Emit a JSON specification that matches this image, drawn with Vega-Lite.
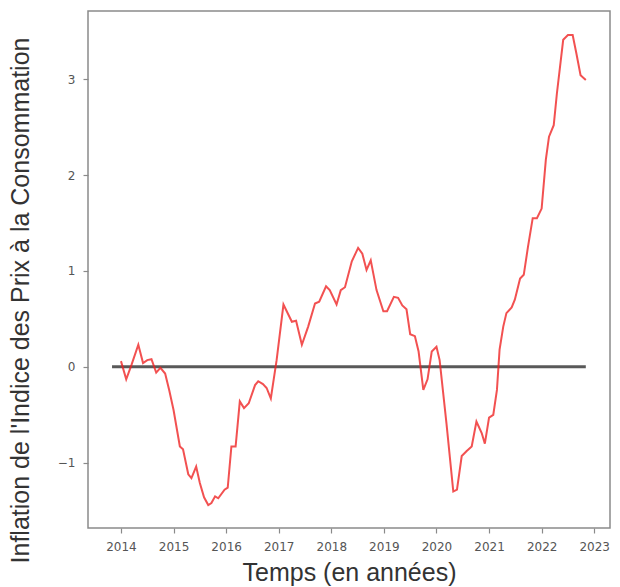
{
  "$schema": "https://vega.github.io/schema/vega-lite/v6.json",
  "width": 522,
  "height": 517,
  "autosize": "none",
  "padding": {"left": 88, "top": 11, "right": 10, "bottom": 59},
  "background": "white",
  "config": {
    "view": {"stroke": "#8a8a8a", "strokeWidth": 1.5},
    "axis": {
      "grid": false,
      "domain": false,
      "tickColor": "#8a8a8a",
      "tickSize": 5,
      "tickWidth": 1.2,
      "labelFont": "DejaVu Sans",
      "labelFontSize": 12,
      "labelColor": "#555555",
      "titleFont": "Liberation Sans",
      "titleFontSize": 25,
      "titleFontWeight": "normal",
      "titleColor": "#333333"
    }
  },
  "datasets": {
    "ipc": [
      {"annee": 2014.00, "inflation": 0.06},
      {"annee": 2014.10, "inflation": -0.13},
      {"annee": 2014.20, "inflation": 0.02},
      {"annee": 2014.33, "inflation": 0.23},
      {"annee": 2014.42, "inflation": 0.04},
      {"annee": 2014.50, "inflation": 0.07},
      {"annee": 2014.58, "inflation": 0.08},
      {"annee": 2014.67, "inflation": -0.06},
      {"annee": 2014.75, "inflation": -0.01},
      {"annee": 2014.84, "inflation": -0.07},
      {"annee": 2014.92, "inflation": -0.25},
      {"annee": 2015.00, "inflation": -0.45},
      {"annee": 2015.12, "inflation": -0.83},
      {"annee": 2015.18, "inflation": -0.86},
      {"annee": 2015.28, "inflation": -1.12},
      {"annee": 2015.34, "inflation": -1.16},
      {"annee": 2015.43, "inflation": -1.04},
      {"annee": 2015.50, "inflation": -1.21},
      {"annee": 2015.58, "inflation": -1.36},
      {"annee": 2015.66, "inflation": -1.44},
      {"annee": 2015.72, "inflation": -1.42},
      {"annee": 2015.79, "inflation": -1.35},
      {"annee": 2015.85, "inflation": -1.37},
      {"annee": 2015.97, "inflation": -1.28},
      {"annee": 2016.03, "inflation": -1.26},
      {"annee": 2016.10, "inflation": -0.83},
      {"annee": 2016.18, "inflation": -0.83},
      {"annee": 2016.26, "inflation": -0.36},
      {"annee": 2016.34, "inflation": -0.43},
      {"annee": 2016.43, "inflation": -0.38},
      {"annee": 2016.55, "inflation": -0.19},
      {"annee": 2016.61, "inflation": -0.15},
      {"annee": 2016.70, "inflation": -0.18},
      {"annee": 2016.77, "inflation": -0.22},
      {"annee": 2016.85, "inflation": -0.33},
      {"annee": 2016.96, "inflation": 0.07},
      {"annee": 2017.09, "inflation": 0.65},
      {"annee": 2017.25, "inflation": 0.47},
      {"annee": 2017.33, "inflation": 0.48},
      {"annee": 2017.44, "inflation": 0.23},
      {"annee": 2017.56, "inflation": 0.42},
      {"annee": 2017.69, "inflation": 0.66},
      {"annee": 2017.77, "inflation": 0.68},
      {"annee": 2017.90, "inflation": 0.84},
      {"annee": 2017.97, "inflation": 0.80},
      {"annee": 2018.10, "inflation": 0.65},
      {"annee": 2018.18, "inflation": 0.80},
      {"annee": 2018.26, "inflation": 0.83},
      {"annee": 2018.39, "inflation": 1.10},
      {"annee": 2018.51, "inflation": 1.24},
      {"annee": 2018.59, "inflation": 1.18},
      {"annee": 2018.67, "inflation": 1.01},
      {"annee": 2018.75, "inflation": 1.11},
      {"annee": 2018.86, "inflation": 0.80},
      {"annee": 2018.99, "inflation": 0.58},
      {"annee": 2019.06, "inflation": 0.58},
      {"annee": 2019.19, "inflation": 0.73},
      {"annee": 2019.27, "inflation": 0.72},
      {"annee": 2019.35, "inflation": 0.64},
      {"annee": 2019.43, "inflation": 0.60},
      {"annee": 2019.50, "inflation": 0.34},
      {"annee": 2019.59, "inflation": 0.32},
      {"annee": 2019.66, "inflation": 0.16},
      {"annee": 2019.75, "inflation": -0.24},
      {"annee": 2019.83, "inflation": -0.13},
      {"annee": 2019.91, "inflation": 0.16},
      {"annee": 2020.00, "inflation": 0.21},
      {"annee": 2020.06, "inflation": 0.07},
      {"annee": 2020.19, "inflation": -0.59},
      {"annee": 2020.32, "inflation": -1.30},
      {"annee": 2020.39, "inflation": -1.28},
      {"annee": 2020.48, "inflation": -0.93},
      {"annee": 2020.57, "inflation": -0.88},
      {"annee": 2020.67, "inflation": -0.83},
      {"annee": 2020.76, "inflation": -0.57},
      {"annee": 2020.86, "inflation": -0.69},
      {"annee": 2020.92, "inflation": -0.80},
      {"annee": 2021.00, "inflation": -0.53},
      {"annee": 2021.08, "inflation": -0.50},
      {"annee": 2021.15, "inflation": -0.24},
      {"annee": 2021.20, "inflation": 0.18},
      {"annee": 2021.27, "inflation": 0.42},
      {"annee": 2021.33, "inflation": 0.56},
      {"annee": 2021.43, "inflation": 0.62},
      {"annee": 2021.49, "inflation": 0.70},
      {"annee": 2021.59, "inflation": 0.92},
      {"annee": 2021.66, "inflation": 0.96},
      {"annee": 2021.74, "inflation": 1.25},
      {"annee": 2021.83, "inflation": 1.55},
      {"annee": 2021.91, "inflation": 1.55},
      {"annee": 2022.00, "inflation": 1.65},
      {"annee": 2022.08, "inflation": 2.16},
      {"annee": 2022.14, "inflation": 2.40},
      {"annee": 2022.23, "inflation": 2.52},
      {"annee": 2022.29, "inflation": 2.85},
      {"annee": 2022.41, "inflation": 3.41},
      {"annee": 2022.50, "inflation": 3.46},
      {"annee": 2022.59, "inflation": 3.46},
      {"annee": 2022.66, "inflation": 3.27},
      {"annee": 2022.74, "inflation": 3.04},
      {"annee": 2022.84, "inflation": 2.99}
    ],
    "zero": [
      {"annee": 2013.83, "inflation": 0},
      {"annee": 2022.84, "inflation": 0}
    ]
  },
  "encoding": {
    "x": {
      "field": "annee",
      "type": "quantitative",
      "scale": {"domain": [2013.373, 2023.30], "nice": false, "zero": false},
      "axis": {
        "values": [2014, 2015, 2016, 2017, 2018, 2019, 2020, 2021, 2022, 2023],
        "format": "d",
        "labelPadding": 8,
        "title": "Temps (en années)",
        "titlePadding": 8
      }
    },
    "y": {
      "field": "inflation",
      "type": "quantitative",
      "scale": {"domain": [-1.68, 3.71], "nice": false, "zero": false},
      "axis": {
        "values": [-1, 0, 1, 2, 3],
        "format": "d",
        "labelPadding": 8,
        "title": "Inflation de l'Indice des Prix à la Consommation",
        "titleX": -68,
        "titleY": 289,
        "titleAngle": -90,
        "titleAlign": "center",
        "titleBaseline": "middle"
      }
    }
  },
  "layer": [
    {
      "data": {"name": "zero"},
      "mark": {"type": "line", "color": "#000000", "opacity": 0.65, "strokeWidth": 3}
    },
    {
      "data": {"name": "ipc"},
      "mark": {"type": "line", "color": "#ee2020", "opacity": 0.78, "strokeWidth": 2}
    }
  ]
}
